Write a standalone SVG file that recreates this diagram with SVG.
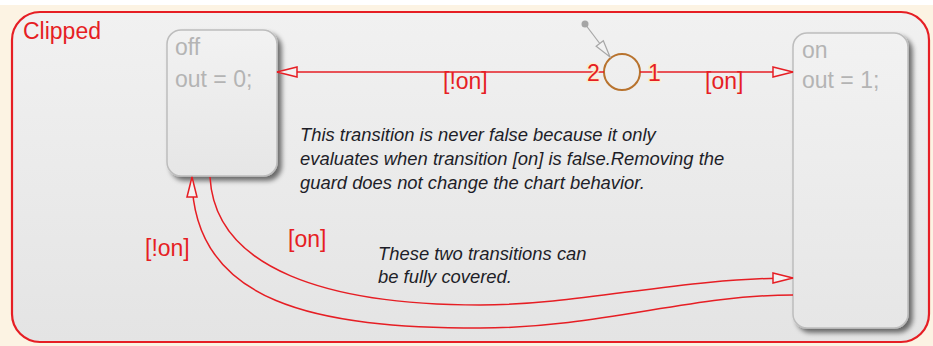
<svg xmlns="http://www.w3.org/2000/svg" width="933" height="346" viewBox="0 0 933 346">
<style>
.lbl{font-family:"Liberation Sans",Arial,sans-serif;font-size:23px;fill:#e61e24}
.st{font-family:"Liberation Sans",Arial,sans-serif;font-size:23px;fill:#b4b4b4}
.note{font-family:"Liberation Sans",Arial,sans-serif;font-size:18.4px;font-style:italic;fill:#1e1e28}
.tr{fill:none;stroke:#e61e24;stroke-width:1.5}
.num{font-family:"Liberation Sans",Arial,sans-serif;font-size:23px;fill:#e61e24;stroke:#fdeec6;stroke-width:3;stroke-opacity:0.85;paint-order:stroke;stroke-linejoin:round}
.state{fill:url(#sg);stroke:#bdbdbd;stroke-width:1.5}
</style>
<defs>
<linearGradient id="bg" x1="0" y1="0" x2="0" y2="1">
<stop offset="0" stop-color="#f1f1f1"/><stop offset="1" stop-color="#e4e4e4"/>
</linearGradient>
<linearGradient id="sg" x1="0" y1="0" x2="0" y2="1">
<stop offset="0" stop-color="#f2f2f2"/><stop offset="1" stop-color="#e6e6e6"/>
</linearGradient>
<filter id="sh" x="-20%" y="-10%" width="140%" height="130%">
<feGaussianBlur in="SourceAlpha" stdDeviation="2.5"/>
<feOffset dx="4" dy="4" result="b"/>
<feComponentTransfer><feFuncA type="linear" slope="0.55"/></feComponentTransfer>
<feMerge><feMergeNode/><feMergeNode in="SourceGraphic"/></feMerge>
</filter>
<marker id="ar" markerUnits="userSpaceOnUse" markerWidth="26" markerHeight="16" viewBox="0 0 26 16" refX="23" refY="8" orient="auto">
<path d="M3,3 L23,8 L3,13 Z" fill="#f2f2f2" stroke="#e61e24" stroke-width="1.5"/>
</marker>
<marker id="ag" markerUnits="userSpaceOnUse" markerWidth="22" markerHeight="14" viewBox="0 0 22 14" refX="20" refY="7" orient="auto">
<path d="M3,2.5 L20,7 L3,11.5 Z" fill="#f2f2f2" stroke="#a6a6a6" stroke-width="1.2"/>
</marker>
</defs>
<rect x="0" y="0" width="933" height="346" fill="#ffffff"/>
<rect x="0" y="5" width="933" height="341" fill="#fcf3e3"/>
<g id="clipped">
<rect x="12" y="12" width="917" height="330" rx="28" fill="url(#bg)" stroke="#e61e24" stroke-width="2.2"/>
<text class="lbl" x="23" y="39" font-size="24">Clipped</text>
</g>
<g id="off">
<rect class="state" x="167" y="30" width="110" height="146" rx="14" filter="url(#sh)"/>
<text class="st" x="175" y="55">off</text>
<text class="st" x="175" y="87">out = 0;</text>
</g>
<g id="on">
<rect class="state" x="793" y="33" width="115" height="295" rx="14" filter="url(#sh)"/>
<text class="st" x="802" y="58">on</text>
<text class="st" x="802" y="88">out = 1;</text>
</g>
<g id="junction">
<circle cx="622" cy="72" r="18" fill="none" stroke="#b8732e" stroke-width="2"/>
</g>
<g id="connectors">
<circle cx="585" cy="24" r="3.5" fill="#a6a6a6"/>
<path d="M585,24 L610,57" fill="none" stroke="#a6a6a6" stroke-width="1.2" marker-end="url(#ag)"/>
<path class="tr" d="M604,72 L277,72" marker-end="url(#ar)"/>
<path class="tr" d="M640,72 L793,72" marker-end="url(#ar)"/>
<path class="tr" d="M210,177 C215,270 330,305 480,305 C580,305 680,278 793,278" marker-end="url(#ar)"/>
<path class="tr" d="M793,295 C690,295 600,328 480,328 C320,328 192,305 192,177" marker-end="url(#ar)"/>
<text class="num" x="587" y="81">2</text>
<text class="num" x="648" y="81">1</text>
<text class="lbl" x="443" y="89">[!on]</text>
<text class="lbl" x="705" y="89">[on]</text>
<text class="lbl" x="145" y="256">[!on]</text>
<text class="lbl" x="288" y="247">[on]</text>
</g>
<g id="notes">
<text class="note" x="300" y="141">This transition is never false because it only</text>
<text class="note" x="300" y="165">evaluates when transition [on] is false.Removing the</text>
<text class="note" x="300" y="189">guard does not change the chart behavior.</text>
<text class="note" x="378" y="260">These two transitions can</text>
<text class="note" x="378" y="283">be fully covered.</text>
</g>
</svg>
